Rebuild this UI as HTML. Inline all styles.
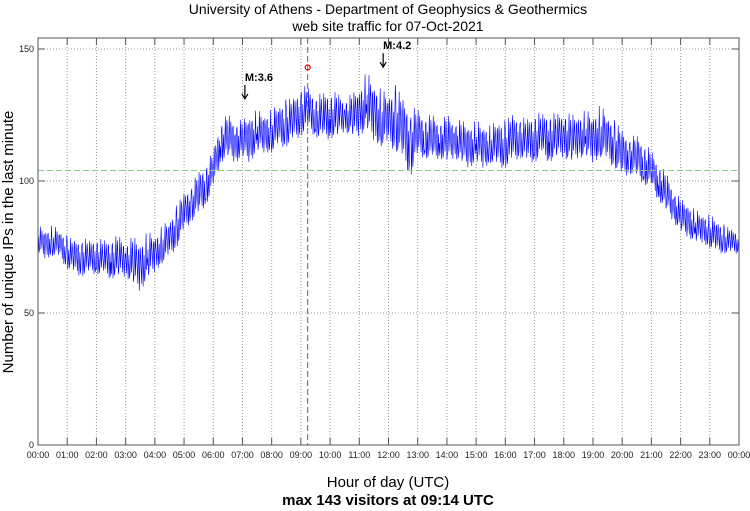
<!DOCTYPE html>
<html><head><meta charset="utf-8"><style>
body{margin:0;background:#fff;}
svg{display:block;font-family:"Liberation Sans",sans-serif;}
</style></head><body>
<svg id="chart" width="750" height="511" viewBox="0 0 750 511">
<text x="388" y="14" text-anchor="middle" font-size="14">University of Athens - Department of Geophysics &amp; Geothermics</text>
<text x="388" y="31" text-anchor="middle" font-size="14">web site traffic for 07-Oct-2021</text>
<text transform="translate(13,242) rotate(-90)" text-anchor="middle" font-size="15">Number of unique IPs in the last minute</text>
<text x="388" y="487" text-anchor="middle" font-size="15">Hour of day (UTC)</text>
<text x="388" y="505" text-anchor="middle" font-size="15" font-weight="bold">max 143 visitors at 09:14 UTC</text>
<g id="grid"></g>
<g id="series"></g>
<g id="annot"></g>
<g id="axes"></g>
</svg>
<script>
const hourLabels=["00:00","01:00","02:00","03:00","04:00","05:00","06:00","07:00","08:00","09:00","10:00","11:00","12:00","13:00","14:00","15:00","16:00","17:00","18:00","19:00","20:00","21:00","22:00","23:00","00:00"];
const yTicks=[0,50,100,150];
const lowVals=[72,70,71,70,66,64,63,64,64,63,62,63,63,60,57,62,65,68,70,74,80,84,86,90,96,106,108,106,108,106,110,110,110,112,112,114,116,118,116,114,115,116,118,116,116,118,114,112,112,110,106,100,108,108,106,108,106,108,106,104,106,104,106,104,104,106,108,106,106,108,106,108,108,106,108,108,106,108,106,104,100,102,100,98,96,92,88,84,80,78,76,76,74,72,72,72];
const highVals=[84,82,84,82,80,78,80,78,80,78,80,80,78,80,78,82,80,84,86,92,96,100,104,108,112,124,126,124,124,126,128,126,128,130,132,132,138,136,134,134,136,134,132,134,136,143,138,136,134,138,132,130,128,126,126,124,126,124,124,122,124,122,122,124,124,126,126,124,128,126,128,126,128,126,126,128,126,130,126,124,120,118,118,116,112,108,104,98,94,92,90,88,88,86,84,82];
const meanValue=104;
const maxValue=143, maxHour=9+14/60;
const quakes=[{label:"M:3.6",hour:7+5/60,val:133},{label:"M:4.2",hour:11+49/60,val:145}];
const X0=38,X1=739,YT=38,YB=445;
const xs=h=>X0+(X1-X0)*h/24;
const ys=v=>YB-v*(YB-49)/150;
const NS="http://www.w3.org/2000/svg";
function mk(t,a,p){const e=document.createElementNS(NS,t);for(const k in a)e.setAttribute(k,a[k]);p.appendChild(e);return e;}
const grid=document.getElementById('grid'),axes=document.getElementById('axes'),ser=document.getElementById('series'),ann=document.getElementById('annot');
hourLabels.forEach((l,i)=>{const x=xs(i);
 if(i>0&&i<24){const g=mk('line',{x1:x,x2:x,y1:YT,y2:YB,stroke:'#999','stroke-dasharray':'1,2','stroke-width':1},grid);
 
 
 mk('line',{x1:x,x2:x,y1:YB,y2:YB-7,stroke:'#555'},axes);mk('line',{x1:x,x2:x,y1:YT,y2:YT+7,stroke:'#555'},axes);}
 const t=mk('text',{x:x,y:YB+13,'text-anchor':'middle','font-size':9,fill:'#222'},axes);t.textContent=l;
 
 
});
yTicks.forEach(v=>{const y=ys(v);
 if(v>0){const g=mk('line',{x1:X0,x2:X1,y1:y,y2:y,stroke:'#999','stroke-dasharray':'1,2'},grid);
 
 
 mk('line',{x1:X0,x2:X0+7,y1:y,y2:y,stroke:'#555'},axes);mk('line',{x1:X1,x2:X1-7,y1:y,y2:y,stroke:'#555'},axes);}
 const t=mk('text',{x:X0-4,y:y+3,'text-anchor':'end','font-size':9,fill:'#222'},axes);t.textContent=v;
 
 
});
const frame=mk('rect',{x:X0,y:YT,width:X1-X0,height:YB-YT,fill:'none',stroke:'#555'},axes);


const pat=[0.3,0.8,0.15,0.65,0.45,0.95,0.2,0.6,0.05,0.75,0.4,0.85,0.25,0.55,0.1];
let d='';const n=lowVals.length;
for(let i=0;i<n;i++){const l0=lowVals[i],h0=highVals[i],l1=lowVals[Math.min(i+1,n-1)],h1=highVals[Math.min(i+1,n-1)];
 for(let k=0;k<15;k++){const f=k/15;const lo=l0+(l1-l0)*f,hi=h0+(h1-h0)*f;const v=lo+(hi-lo)*pat[(k*7+i*4)%15];
 const x=xs((i*15+k)/60),y=ys(v);d+=(d?'L':'M')+x.toFixed(1)+','+y.toFixed(1);}}
const line=mk('path',{d:d,fill:'none',stroke:'#0000ff','stroke-width':0.6},ser);


const mean=mk('line',{x1:X0,x2:X1,y1:ys(meanValue),y2:ys(meanValue),stroke:'#88cc88','stroke-dasharray':'6,3'},ann);


const vl=mk('line',{x1:xs(maxHour),x2:xs(maxHour),y1:YT,y2:YB,stroke:'#666','stroke-dasharray':'6,3'},ann);


const mc=mk('circle',{cx:xs(maxHour),cy:ys(maxValue),r:2.5,fill:'none',stroke:'#e00','stroke-width':1.2},ann);


quakes.forEach(q=>{const x=xs(q.hour),y=ys(q.val);
 const t=mk('text',{x:x,y:y-13,'font-size':11,'font-weight':'bold'},ann);t.textContent=q.label;
 
 
 const a=mk('path',{d:`M${x},${y-9}L${x},${y+5}M${x-3},${y}L${x},${y+5}L${x+3},${y}`,fill:'none',stroke:'#000','stroke-width':1.2},ann);
 
 
});
</script>
</body></html>
